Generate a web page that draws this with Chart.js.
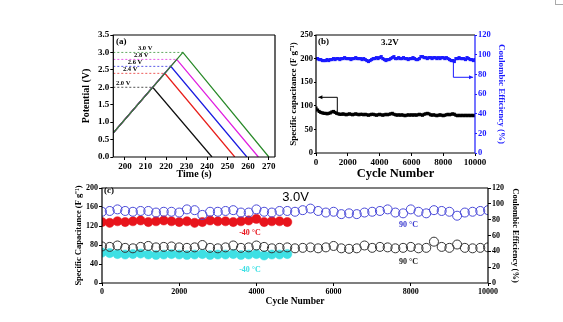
<!DOCTYPE html>
<html><head><meta charset="utf-8">
<script src="https://cdn.jsdelivr.net/npm/chart.js@4"></script>
<style>
html,body{margin:0;padding:0;background:#fff;width:563px;height:322px;overflow:hidden;position:relative}
canvas{position:absolute}
#corner{position:absolute;left:555px;top:0;width:8px;height:4px;border-left:1px solid #aaa;border-bottom:1px solid #aaa}
</style></head><body>
<div id="corner"></div>
<canvas id="ca" width="205" height="160" style="left:80px;top:22px"></canvas>
<canvas id="cb" width="222" height="160" style="left:288px;top:22px"></canvas>
<canvas id="cc" width="446" height="140" style="left:74px;top:182px"></canvas>
<script>
const SERIF = "'Liberation Serif','Times New Roman',serif";
const SANS = "'Liberation Sans',Arial,sans-serif";

// ---------- Panel (a): charge/discharge curves ----------
const timeTicks = [200,210,220,230,240,250,260,270];
const potentialTicks = [0,0.5,1,1.5,2,2.5,3,3.5];
const cutoffVoltages = [2.0,2.4,2.6,2.8,3.0];
const cutoffLabels = ['2.0 V','2.4 V','2.6 V','2.8 V','3.0 V'];
const cutoffColors = ['#111111','#e8201c','#1c1ce0','#e01ee0','#2a8a2a'];
const chargeStartTime = 194.3;
const chargeStartPotential = 0.69;
const peakTimes = [213.5,219.4,222.3,225.2,228.2];
const dischargeEndTimes = [242.4,253.5,259.4,265.0,270.1];
const cutoffLabelTimes = [195.6,199.0,201.4,204.4,206.3];

// ---------- Panel (b): 3.2 V cycling ----------
const cycleTicks = [0,2000,4000,6000,8000,10000];
const capTicksB = [0,50,100,150,200,250];
const effTicks = [0,20,40,60,80,100,120];
const cyclesB = [0,100,200,300,400,500,600,700,800,900,1000,1100,1200,1300,1400,1500,1600,1700,1800,1900,2000,2100,2200,2300,2400,2500,2600,2700,2800,2900,3000,3100,3200,3300,3400,3500,3600,3700,3800,3900,4000,4100,4200,4300,4400,4500,4600,4700,4800,4900,5000,5100,5200,5300,5400,5500,5600,5700,5800,5900,6000,6100,6200,6300,6400,6500,6600,6700,6800,6900,7000,7100,7200,7300,7400,7500,7600,7700,7800,7900,8000,8100,8200,8300,8400,8500,8600,8700,8800,8900,9000,9100,9200,9300,9400,9500,9600,9700,9800,9900,10000];
const capB = [95,91,88,86,85,84,84,83,84,85,
  87,88,86,84,83,82,82,83,82,81,
  82,83,82,81,82,83,82,81,82,82,
  81,82,81,80,81,82,82,81,80,81,
  82,81,80,81,82,81,82,83,84,82,
  81,80,81,80,81,80,79,80,81,80,
  81,80,81,80,81,82,81,80,82,83,
  84,83,81,80,81,80,79,80,81,80,
  79,80,81,82,81,82,83,82,80,79,
  80,79,80,79,80,79,80,79,80,79,
  80];
const effB = [96,96,95,95,94,94,94,95,94,95,
  95,96,95,96,96,95,96,96,97,96,
  96,96,95,96,96,97,96,96,96,95,
  96,95,94,93,94,95,96,96,97,96,
  97,98,96,95,94,95,95,96,97,98,
  96,96,97,96,96,97,96,96,95,96,
  96,97,96,95,95,96,98,98,97,97,
  96,97,97,96,97,97,96,97,96,97,
  97,96,97,96,95,94,94,93,96,96,
  97,96,96,96,95,97,96,95,95,94,
  95];
const arrowCapB = [[1340,85],[1340,118],[150,118]];
const arrowEffB = [[8640,93],[8640,77],[9880,77]];

// ---------- Panel (c): 3.0 V cycling at 90 / -40 °C ----------
const capTicksC = [0,40,80,120,160,200];
const cyclesC = [0,200,400,600,800,1000,1200,1400,1600,1800,2000,2200,2400,2600,2800,3000,3200,3400,3600,3800,4000,4200,4400,4600,4800,5000,5200,5400,5600,5800,6000,6200,6400,6600,6800,7000,7200,7400,7600,7800,8000,8200,8400,8600,8800,9000,9200,9400,9600,9800,10000];
const cyclesCLow = [0,200,400,600,800,1000,1200,1400,1600,1800,2000,2200,2400,2600,2800,3000,3200,3400,3600,3800,4000,4200,4400,4600,4800];
const eff90 = [90,91,93,91,90,91,91,89,90,90,
  89,93,92,86,90,90,91,92,89,89,
  93,90,89,91,91,90,92,94,91,89,
  90,87,88,87,89,90,91,93,89,88,
  93,90,88,92,91,90,85,89,90,91,
  92];
const effM40 = [77,76,78,77,78,79,77,78,79,78,77,78,76,77,79,78,78,77,78,79,81,77,78,78,77];
const cap90 = [77,76,79,74,73,76,78,75,76,77,
  75,74,75,80,74,73,75,79,74,75,
  79,76,73,74,75,73,74,75,73,75,
  78,73,72,73,79,74,76,75,73,74,
  76,73,74,87,76,74,81,74,73,74,
  75];
const capM40 = [64,63,61,60,61,62,60,59,60,61,60,59,60,61,59,60,60,61,59,60,61,58,60,60,61];

// ---------- helpers ----------
function fixTicks(arr){ return s => { s.ticks = arr.map(v => ({value:v})); }; }
function axis(o){
  return {
    type:'linear', position:o.pos, min:o.min, max:o.max,
    afterBuildTicks: fixTicks(o.ticks),
    afterFit: s => { if (o.pos==='bottom') s.height=o.size; else s.width=o.size; },
    grid:{display:true, drawOnChartArea:false, drawTicks:true, tickLength:o.tickLen||3, color:o.color||'#000', tickColor:o.color||'#000'},
    border:{display:false},
    ticks:{color:o.color||'#000', padding:o.pad||1, font:{family:SERIF, size:o.fs, weight:'bold'}, callback:o.fmt||(v=>v), maxRotation:0, autoSkip:false},
    title:{display:true, text:o.title, color:o.color||'#000', font:{family:SERIF, size:o.tfs, weight:'bold'}, padding:o.tpad||{top:0,bottom:0}}
  };
}
function note(ctx, chart, n){
  const xs = chart.scales.x, ys = chart.scales[n.axis||'y'];
  ctx.font = n.font; ctx.fillStyle = n.color||'#000';
  ctx.textAlign = n.align||'center'; ctx.textBaseline = 'middle';
  ctx.fillText(n.text, xs.getPixelForValue(n.x), ys.getPixelForValue(n.y));
}
function arrow(ctx, chart, pts, axisId, color){
  const xs = chart.scales.x, ys = chart.scales[axisId];
  const P = pts.map(p => [xs.getPixelForValue(p[0]), ys.getPixelForValue(p[1])]);
  ctx.strokeStyle = color; ctx.lineWidth = 1; ctx.beginPath();
  P.forEach((p,i) => i ? ctx.lineTo(p[0],p[1]) : ctx.moveTo(p[0],p[1]));
  ctx.stroke();
  const a = P[P.length-2], b = P[P.length-1];
  const g = Math.atan2(b[1]-a[1], b[0]-a[0]);
  ctx.fillStyle = color; ctx.beginPath();
  ctx.moveTo(b[0], b[1]);
  ctx.lineTo(b[0]-4*Math.cos(g)+2*Math.sin(g), b[1]-4*Math.sin(g)-2*Math.cos(g));
  ctx.lineTo(b[0]-4*Math.cos(g)-2*Math.sin(g), b[1]-4*Math.sin(g)+2*Math.cos(g));
  ctx.closePath(); ctx.fill();
}
function framePlugin(rightColor, draw){
  return {id:'frame', afterDraw(chart){
    const ctx = chart.ctx, a = chart.chartArea;
    ctx.save();
    if (draw) draw(ctx, chart);
    ctx.lineWidth = 1.2; ctx.strokeStyle = '#000';
    ctx.beginPath();
    ctx.moveTo(a.right, a.top); ctx.lineTo(a.left, a.top); ctx.lineTo(a.left, a.bottom); ctx.lineTo(a.right, a.bottom);
    ctx.stroke();
    ctx.strokeStyle = rightColor; ctx.beginPath();
    ctx.moveTo(a.right, a.top); ctx.lineTo(a.right, a.bottom); ctx.stroke();
    ctx.restore();
  }};
}
const common = {responsive:false, animation:false, devicePixelRatio:1,
  plugins:{legend:{display:false}, tooltip:{enabled:false}}};

// ---------- Chart (a) ----------
const dsA = [];
for (let i = cutoffVoltages.length-1; i >= 0; i--) {
  dsA.push({data:[{x:chargeStartTime,y:chargeStartPotential},{x:peakTimes[i],y:cutoffVoltages[i]},{x:dischargeEndTimes[i],y:0}],
    borderColor:cutoffColors[i], borderWidth:1.3, pointRadius:0, showLine:true, tension:0});
}
for (let i = cutoffVoltages.length-1; i >= 0; i--) {
  dsA.push({data:[{x:chargeStartTime,y:cutoffVoltages[i]},{x:peakTimes[i],y:cutoffVoltages[i]}],
    borderColor:cutoffColors[i]+'bb', borderWidth:1, borderDash:[2,2], pointRadius:0, showLine:true});
}
new Chart(document.getElementById('ca'), {
  type:'scatter', data:{datasets:dsA},
  options:Object.assign({}, common, {
    layout:{padding:{left:0,right:10,top:13,bottom:0}},
    scales:{
      x:axis({pos:'bottom', min:194.3, max:273.1, ticks:timeTicks, size:25, fs:9, title:'Time (s)', tfs:10, tpad:{top:0,bottom:2}}),
      y:axis({pos:'left', min:0, max:3.5, ticks:potentialTicks, size:33.3, fs:9, title:'Potential (V)', tfs:10, fmt:v=>v.toFixed(1)})
    }
  }),
  plugins:[framePlugin('#000', (ctx, chart) => {
    note(ctx, chart, {text:'(a)', x:195.6, y:3.30, align:'left', font:'bold 9px '+SERIF});
    for (let i = 0; i < cutoffVoltages.length; i++)
      note(ctx, chart, {text:cutoffLabels[i], x:cutoffLabelTimes[i], y:cutoffVoltages[i]+0.11, align:'left', font:'bold 6.5px '+SERIF});
  })]
});

// ---------- Chart (b) ----------
new Chart(document.getElementById('cb'), {
  type:'line',
  data:{datasets:[
    {data:cyclesB.map((c,i)=>({x:c,y:capB[i]})), yAxisID:'y', borderColor:'#000', backgroundColor:'#000', borderWidth:1.5, pointStyle:'rect', pointRadius:2.2, pointBorderWidth:0},
    {data:cyclesB.map((c,i)=>({x:c,y:effB[i]})), yAxisID:'y1', borderColor:'#1a1aff', backgroundColor:'#1a1aff', borderWidth:1.5, pointStyle:'rect', pointRadius:2.2, pointBorderWidth:0}
  ]},
  options:Object.assign({}, common, {
    layout:{padding:{left:0,right:3,top:13,bottom:0}},
    scales:{
      x:axis({pos:'bottom', min:0, max:10000, ticks:cycleTicks, size:29, fs:9, title:'Cycle Number', tfs:12.5, tpad:{top:0,bottom:1}}),
      y:axis({pos:'left', min:0, max:250, ticks:capTicksB, size:28, fs:8.5, tickLen:2, title:'Specific capacitance (F g\u207B\u00B9)', tfs:9}),
      y1:axis({pos:'right', min:0, max:120, ticks:effTicks, size:32, fs:8.5, tickLen:2, color:'#1a1aff', title:'Coulombic Efficiency (%)', tfs:9})
    }
  }),
  plugins:[framePlugin('#1a1aff', (ctx, chart) => {
    note(ctx, chart, {text:'(b)', x:126, y:235, align:'left', font:'bold 9px '+SERIF});
    note(ctx, chart, {text:'3.2V', x:4654, y:233, font:'bold 9px '+SERIF});
    arrow(ctx, chart, arrowCapB, 'y', '#000');
    arrow(ctx, chart, arrowEffB, 'y1', '#1a1aff');
  })]
});

// ---------- Chart (c) ----------
new Chart(document.getElementById('cc'), {
  type:'scatter',
  data:{datasets:[
    {data:cyclesC.map((c,i)=>({x:c,y:eff90[i]})), yAxisID:'y1', borderColor:'#4a4ad8', backgroundColor:'rgba(0,0,0,0)', pointRadius:4.5, pointBorderWidth:1},
    {data:cyclesCLow.map((c,i)=>({x:c,y:effM40[i]})), yAxisID:'y1', borderColor:'#e8141c', backgroundColor:'#e8141c', pointRadius:4.6, pointBorderWidth:0.5},
    {data:cyclesC.map((c,i)=>({x:c,y:cap90[i]})), yAxisID:'y', borderColor:'#333', backgroundColor:'rgba(0,0,0,0)', pointRadius:4.5, pointBorderWidth:1},
    {data:cyclesCLow.map((c,i)=>({x:c,y:capM40[i]})), yAxisID:'y', borderColor:'#3ee0e4', backgroundColor:'#3ee0e4', pointRadius:4.6, pointBorderWidth:0.5}
  ]},
  options:Object.assign({}, common, {
    layout:{padding:{left:0,right:0,top:6,bottom:14}},
    scales:{
      x:axis({pos:'bottom', min:0, max:10000, ticks:cycleTicks, size:25, fs:8, title:'Cycle Number', tfs:9.5, tpad:{top:0,bottom:1}}),
      y:axis({pos:'left', min:0, max:200, ticks:capTicksC, size:28, fs:8, title:'Specific Capacitance (F g\u207B\u00B9)', tfs:8.5}),
      y1:axis({pos:'right', min:0, max:120, ticks:effTicks, size:32, fs:8, title:'Coulombic Efficiency (%)', tfs:8.5})
    }
  }),
  plugins:[framePlugin('#000', (ctx, chart) => {
    note(ctx, chart, {text:'(c)', x:52, y:193.7, align:'left', font:'bold 9px '+SERIF});
    note(ctx, chart, {text:'3.0V', x:5013, y:181, font:'13px '+SANS});
    note(ctx, chart, {text:'-40 \u00B0C', x:3834, y:106, color:'#e8141c', font:'bold 8px '+SERIF});
    note(ctx, chart, {text:'-40 \u00B0C', x:3834, y:28, color:'#3ee0e4', font:'bold 8px '+SERIF});
    note(ctx, chart, {text:'90 \u00B0C', x:7940, y:122, color:'#3a3ad0', font:'bold 8px '+SERIF});
    note(ctx, chart, {text:'90 \u00B0C', x:7940, y:45, color:'#222', font:'bold 8px '+SERIF});
  })]
});
</script>
</body></html>
